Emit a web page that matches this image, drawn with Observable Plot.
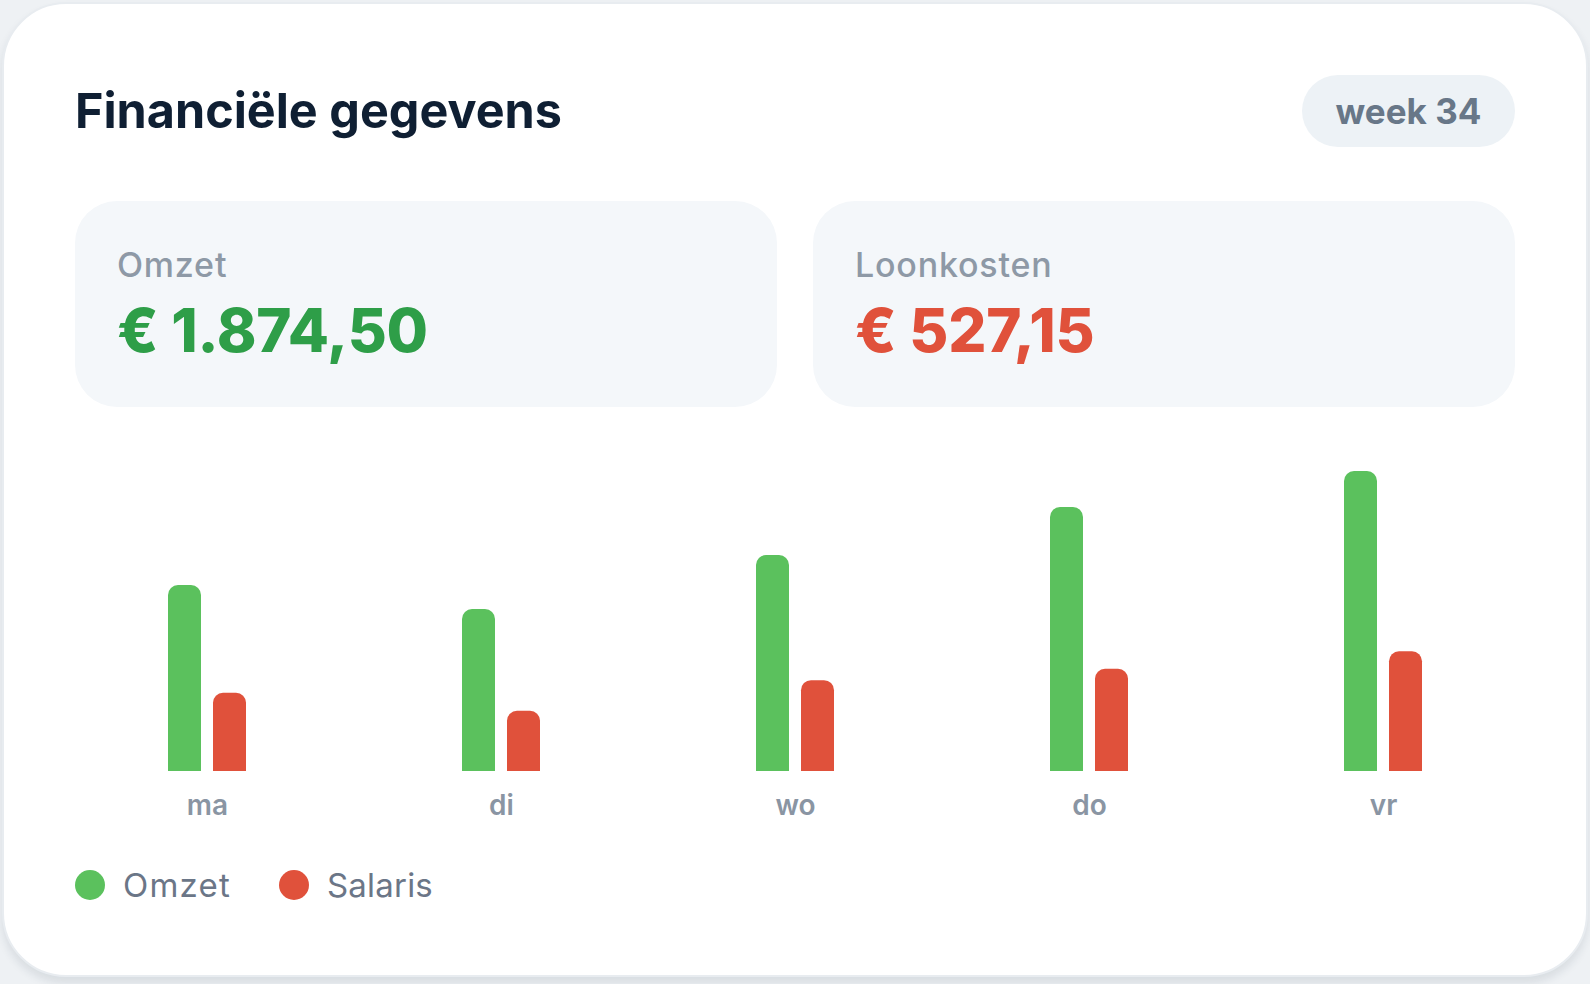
<!DOCTYPE html>
<html>
<head>
<meta charset="utf-8">
<script src="https://cdn.jsdelivr.net/npm/d3@7"></script>
<script src="https://cdn.jsdelivr.net/npm/@observablehq/plot@0.6"></script>
<style>
  html, body { margin: 0; padding: 0; }
  body { width: 1590px; height: 984px; background: #eef1f4; font-family: Inter, "Noto Sans", sans-serif; position: relative; overflow: hidden; }
  .abs { position: absolute; white-space: nowrap; }
  #card { left: 2px; top: 2px; width: 1582px; height: 971px; background: #fff; border: 2px solid #e8ecf0; border-radius: 64px; box-shadow: 0 6px 8px rgba(30,45,70,0.10); }
  #title { left: 75px; top: 87px; font-size: 48.5px; line-height: 48.5px; font-weight: 700; color: #0f1f33; letter-spacing: 0px; }
  #pill { left: 1302px; top: 75px; width: 213px; height: 72px; border-radius: 36px; background: #edf2f6; color: #687788; font-size: 35px; font-weight: 700; display: flex; align-items: center; justify-content: center; }
  .stat { top: 201px; width: 702px; height: 206px; border-radius: 42px; background: #f4f7fa; }
  .statLabel { top: 248px; font-size: 34px; line-height: 34px; font-weight: 500; color: #8e99a6; letter-spacing: 0.8px; }
  .statValue { top: 300px; font-size: 60px; line-height: 60px; font-weight: 800; letter-spacing: -0.2px; }
  #chart { left: 0px; top: 400px; }
  .dot { width: 30px; height: 30px; border-radius: 50%; top: 870px; }
  .legText { top: 869px; font-size: 33px; line-height: 33px; font-weight: 400; color: #6b7687; letter-spacing: 0.3px; }
</style>
</head>
<body>
<div id="card" class="abs"></div>
<div id="title" class="abs"></div>
<div id="pill" class="abs"></div>
<div id="stat0" class="abs stat" style="left:75px"></div>
<div id="stat1" class="abs stat" style="left:813px"></div>
<div id="lab0" class="abs statLabel" style="left:117px"></div>
<div id="val0" class="abs statValue" style="left:117px"></div>
<div id="lab1" class="abs statLabel" style="left:855px"></div>
<div id="val1" class="abs statValue" style="left:855px"></div>
<div id="chart" class="abs"></div>
<div id="legend"></div>
<script>
// ---- data ----
const titleText = "Financiële gegevens";
const weekLabel = "week 34";
const days = ["ma", "di", "wo", "do", "vr"];
const seriesNames = ["Omzet", "Salaris"];
const seriesColors = ["#5bc15d", "#e0513b"];
const omzet = [309.10, 269.25, 358.95, 438.70, 498.50];
const salaris = [130, 100, 151, 170, 199];
const statLabels = ["Omzet", "Loonkosten"];
const statValues = ["€ 1.874,50", "€ 527,15"];
const statColors = ["#2e9e48", "#e0513b"];

// ---- header & stats ----
document.getElementById("title").textContent = titleText;
document.getElementById("pill").textContent = weekLabel;
statLabels.forEach((t, i) => {
  document.getElementById("lab" + i).textContent = t;
  const v = document.getElementById("val" + i);
  v.textContent = statValues[i];
  v.style.color = statColors[i];
});

// ---- chart ----
const rows = days.map((d, i) => ({day: d, omzet: omzet[i], salaris: salaris[i]}));
const chart = Plot.plot({
  width: 1590,
  height: 431,
  marginLeft: 60,
  marginRight: 60,
  marginTop: 10,
  marginBottom: 60,
  style: {background: "transparent", fontFamily: "Inter, sans-serif", overflow: "visible"},
  x: {domain: days, padding: 0, label: null},
  y: {domain: [0, 600], axis: null},
  marks: [
    Plot.barY(rows, {x: "day", y: "omzet", fill: seriesColors[0], rx: 10, insetLeft: 108, insetRight: 153, insetBottom: -20, clip: true}),
    Plot.barY(rows, {x: "day", y: "salaris", fill: seriesColors[1], rx: 10, insetLeft: 153, insetRight: 108, insetBottom: -20, clip: true}),
    Plot.axisX({tickSize: 0, tickPadding: 24, fontSize: 28, fontWeight: 600, color: "#8a95a3", label: null})
  ]
});
document.getElementById("chart").appendChild(chart);

// ---- legend ----
const leg = document.getElementById("legend");
const dotLeft = [75, 279];
const textLeft = [123, 327];
const textSpacing = [1.2, 0.2];
seriesNames.forEach((name, i) => {
  const dot = document.createElement("div");
  dot.className = "abs dot";
  dot.style.left = dotLeft[i] + "px";
  dot.style.background = seriesColors[i];
  leg.appendChild(dot);
  const t = document.createElement("div");
  t.className = "abs legText";
  t.style.left = textLeft[i] + "px";
  t.style.letterSpacing = textSpacing[i] + "px";
  t.textContent = name;
  leg.appendChild(t);
});
</script>
</body>
</html>
